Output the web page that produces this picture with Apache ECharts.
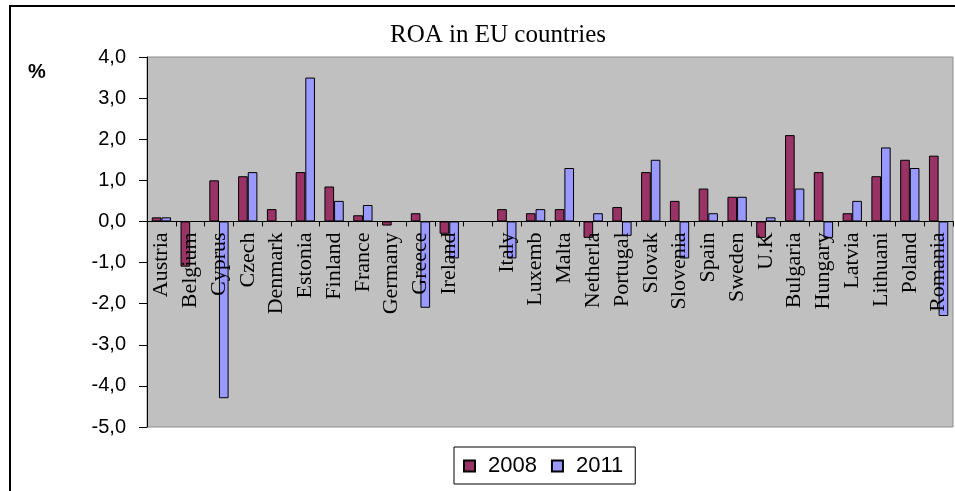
<!DOCTYPE html>
<html>
<head>
<meta charset="utf-8">
<script src="https://cdn.jsdelivr.net/npm/echarts@6/dist/echarts.min.js"></script>
<style>
html,body{margin:0;padding:0;background:#fff;}
#chart{width:955px;height:491px;}
</style>
</head>
<body>
<div id="chart"></div>
<script>
var categories = ['Austria','Belgium','Cyprus','Czech','Denmark','Estonia','Finland','France','Germany','Greece','Ireland','','Italy','Luxemb','Malta','Netherla','Portugal','Slovak','Slovenia','Spain','Sweden','U.K','Bulgaria','Hungary','Latvia','Lithuani','Poland','Romania'];
var roa2008 = [0.1,-1.1,1.0,1.1,0.3,1.2,0.85,0.15,-0.1,0.2,-0.3,null,0.3,0.2,0.3,-0.4,0.35,1.2,0.5,0.8,0.6,-0.4,2.1,1.2,0.2,1.1,1.5,1.6];
var roa2011 = [0.1,null,-4.3,1.2,null,3.5,0.5,0.4,null,-2.1,-0.9,null,-0.9,0.3,1.3,0.2,-0.35,1.5,-0.9,0.2,0.6,0.1,0.8,-0.4,0.5,1.8,1.3,-2.3];
var seriesNames = ['2008','2011'];
var yMin = -5, yMax = 4, yStep = 1;

var W = 955, H = 491;
var gridTop = 57, gridBottom = 64, gridLeft = 147, gridRight = 2;
var plotH = H - gridTop - gridBottom;
// place category axis on the value-axis zero line
var zeroOffset = -((0 - yMin) / (yMax - yMin)) * plotH;

var chart = echarts.init(document.getElementById('chart'), null, {renderer:'canvas', width: W, height: H});
var option = {
  backgroundColor: '#ffffff',
  animation: false,
  title: {
    text: 'ROA in EU countries',
    left: 493, top: 18, textAlign: 'center',
    textStyle: {fontFamily: 'Liberation Serif', fontSize: 25, fontWeight: 'normal', color: '#000'}
  },
  graphic: [
    {type:'rect', shape:{x:10, y:6, width:1200, height:800}, style:{fill:'none', stroke:'#000', lineWidth:2}, z:-1},
    {type:'text', left:28, top:62, style:{text:'%', fontFamily:'Liberation Sans', fontSize:20, fontWeight:'bold', fill:'#000'}}
  ],
  legend: {
    data: seriesNames,
    left: 454, top: 447,
    orient: 'horizontal',
    borderColor: '#000', borderWidth: 1,
    padding: [8, 12, 7, 9],
    itemWidth: 11, itemHeight: 11, itemGap: 14,
    icon: 'rect',
    textStyle: {fontFamily: 'Liberation Sans', fontSize: 22, color: '#000', padding:[0,0,0,8]}
  },
  grid: {
    left: gridLeft, right: gridRight, top: gridTop, bottom: gridBottom,
    show: true, backgroundColor: '#C0C0C0', borderColor: '#8c8c8c', borderWidth: 1,
    containLabel: false,
    outerBoundsMode: 'none'
  },
  xAxis: {
    type: 'category',
    data: categories,
    position: 'bottom',
    offset: zeroOffset,
    z: 5,
    axisLine: {onZero: false, lineStyle: {color: '#000', width: 1}},
    axisTick: {show: true, interval: 0, length: 5, lineStyle: {color: '#000'}},
    axisLabel: {interval: 0, rotate: 90, margin: 11, fontFamily: 'Liberation Serif', fontSize: 22, color: '#000', hideOverlap: false},
    splitLine: {show: false}
  },
  yAxis: {
    type: 'value',
    min: yMin, max: yMax, interval: yStep,
    axisLine: {show: true, lineStyle: {color: '#000', width: 1}},
    axisTick: {show: true, inside: false, length: 8, lineStyle: {color: '#000'}},
    axisLabel: {margin: 21, fontFamily: 'Liberation Sans', fontSize: 20, color: '#000',
      formatter: function(v){ return v.toFixed(1).replace('.', ','); }},
    splitLine: {show: false}
  },
  series: [
    {name: seriesNames[0], type: 'bar', data: roa2008, barGap: '0%', barCategoryGap: '33%',
      itemStyle: {color: '#993366', borderColor: '#000', borderWidth: 1}},
    {name: seriesNames[1], type: 'bar', data: roa2011, barGap: '0%', barCategoryGap: '33%',
      itemStyle: {color: '#9999FF', borderColor: '#000', borderWidth: 1}}
  ]
};
chart.setOption(option);
</script>
</body>
</html>
